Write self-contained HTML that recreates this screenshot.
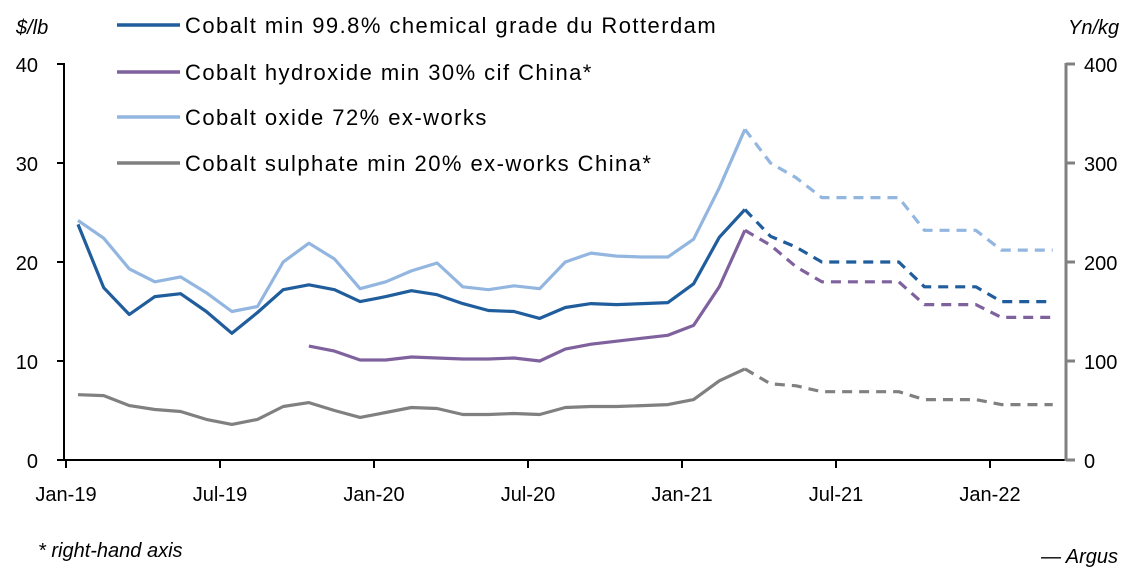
<!DOCTYPE html>
<html><head><meta charset="utf-8"><style>
body{margin:0;background:#fff;}
svg{display:block;font-family:"Liberation Sans",sans-serif;}
</style></head><body>
<svg width="1143" height="582" viewBox="0 0 1143 582" xmlns="http://www.w3.org/2000/svg">
<g font-size="20" fill="#000">
<text x="16" y="34" font-style="italic">$/lb</text>
<text x="1068" y="34" font-style="italic">Yn/kg</text>
<text x="38" y="72" text-anchor="end">40</text>
<text x="38" y="171" text-anchor="end">30</text>
<text x="38" y="270" text-anchor="end">20</text>
<text x="38" y="369" text-anchor="end">10</text>
<text x="38" y="468" text-anchor="end">0</text>
<text x="1084" y="72">400</text>
<text x="1084" y="171">300</text>
<text x="1084" y="270">200</text>
<text x="1084" y="369">100</text>
<text x="1084" y="468">0</text>
<text x="66" y="501" text-anchor="middle">Jan-19</text>
<text x="220" y="501" text-anchor="middle">Jul-19</text>
<text x="374" y="501" text-anchor="middle">Jan-20</text>
<text x="528" y="501" text-anchor="middle">Jul-20</text>
<text x="682" y="501" text-anchor="middle">Jan-21</text>
<text x="836" y="501" text-anchor="middle">Jul-21</text>
<text x="990" y="501" text-anchor="middle">Jan-22</text>
<text x="38" y="557" font-style="italic">* right-hand axis</text>
<text x="1118" y="563" font-style="italic" text-anchor="end">— Argus</text>
</g>
<g font-size="22" fill="#000" letter-spacing="1.45">
<text x="185" y="33">Cobalt min 99.8% chemical grade du Rotterdam</text>
<text x="185" y="80">Cobalt hydroxide min 30% cif China*</text>
<text x="185" y="125">Cobalt oxide 72% ex-works</text>
<text x="185" y="171">Cobalt sulphate min 20% ex-works China*</text>
</g>
<g stroke-width="3.5">
<line x1="117" y1="25" x2="180" y2="25" stroke="#1f5d9c"/>
<line x1="117" y1="72" x2="180" y2="72" stroke="#7f629d"/>
<line x1="117" y1="117" x2="180" y2="117" stroke="#93b6e0"/>
<line x1="117" y1="163" x2="180" y2="163" stroke="#808080"/>
</g>
<g stroke="#000" stroke-width="2">
<line x1="64" y1="63" x2="64" y2="461"/>
<line x1="57" y1="64" x2="64" y2="64"/><line x1="57" y1="163" x2="64" y2="163"/>
<line x1="57" y1="262" x2="64" y2="262"/><line x1="57" y1="361" x2="64" y2="361"/>
<line x1="57" y1="460" x2="64" y2="460"/>
<line x1="64" y1="460" x2="1066" y2="460"/>
<g id="bt"></g>
</g>
<g stroke="#808080" stroke-width="3">
<line x1="1066" y1="63" x2="1066" y2="461"/>
<line x1="1066" y1="64" x2="1075" y2="64"/><line x1="1066" y1="163" x2="1075" y2="163"/>
<line x1="1066" y1="262" x2="1075" y2="262"/><line x1="1066" y1="361" x2="1075" y2="361"/>
<line x1="1066" y1="460" x2="1075" y2="460"/>
</g>
<g id="series" fill="none" stroke-width="3.2" stroke-linejoin="round"></g>
</svg>
<script>
var ns="http://www.w3.org/2000/svg";
var bt=document.getElementById('bt');
[66,220,374,528,682,836,990].forEach(function(x){var l=document.createElementNS(ns,'line');l.setAttribute('x1',x);l.setAttribute('x2',x);l.setAttribute('y1',460);l.setAttribute('y2',468);bt.appendChild(l);});
function X(i){return 78+i*25.65;}
function Y(v){return 460-v*9.9;}
var S=[
["#808080",0,[6.6,6.5,5.5,5.1,4.9,4.1,3.6,4.1,5.4,5.8,5.0,4.3,4.8,5.3,5.2,4.6,4.6,4.7,4.6,5.3,5.4,5.4,5.5,5.6,6.1,8.0,9.2],[7.7,7.5,6.9,6.9,6.9,6.9,6.1,6.1,6.1,5.6,5.6,5.6]],
["#93b6e0",0,[24.2,22.4,19.3,18.0,18.5,16.9,15.0,15.5,20.0,21.9,20.3,17.3,18.0,19.1,19.9,17.5,17.2,17.6,17.3,20.0,20.9,20.6,20.5,20.5,22.3,27.5,33.4],[30.0,28.5,26.5,26.5,26.5,26.5,23.2,23.2,23.2,21.2,21.2,21.2]],
["#7f629d",9,[11.5,11.0,10.1,10.1,10.4,10.3,10.2,10.2,10.3,10.0,11.2,11.7,12.0,12.3,12.6,13.6,17.5,23.2],[21.7,19.5,18.0,18.0,18.0,18.0,15.7,15.7,15.7,14.4,14.4,14.4]],
["#1f5d9c",0,[23.8,17.4,14.7,16.5,16.8,15.0,12.8,14.9,17.2,17.7,17.2,16.0,16.5,17.1,16.7,15.8,15.1,15.0,14.3,15.4,15.8,15.7,15.8,15.9,17.8,22.5,25.3],[22.6,21.5,20.0,20.0,20.0,20.0,17.5,17.5,17.5,16.0,16.0,16.0]]
];
var g=document.getElementById('series');
S.forEach(function(s){
 var c=s[0],st=s[1],a=s[2],d=s[3];
 var p=a.map(function(v,i){return X(st+i).toFixed(1)+","+Y(v).toFixed(1);});
 var e=document.createElementNS(ns,'polyline');e.setAttribute('points',p.join(' '));e.setAttribute('stroke',c);g.appendChild(e);
 var last=st+a.length-1;
 var q=[X(last).toFixed(1)+","+Y(a[a.length-1]).toFixed(1)].concat(d.map(function(v,i){return X(last+1+i).toFixed(1)+","+Y(v).toFixed(1);}));
 var f=document.createElementNS(ns,'polyline');f.setAttribute('points',q.join(' '));f.setAttribute('stroke',c);f.setAttribute('stroke-dasharray','10 7');g.appendChild(f);
});
</script>
</body></html>
